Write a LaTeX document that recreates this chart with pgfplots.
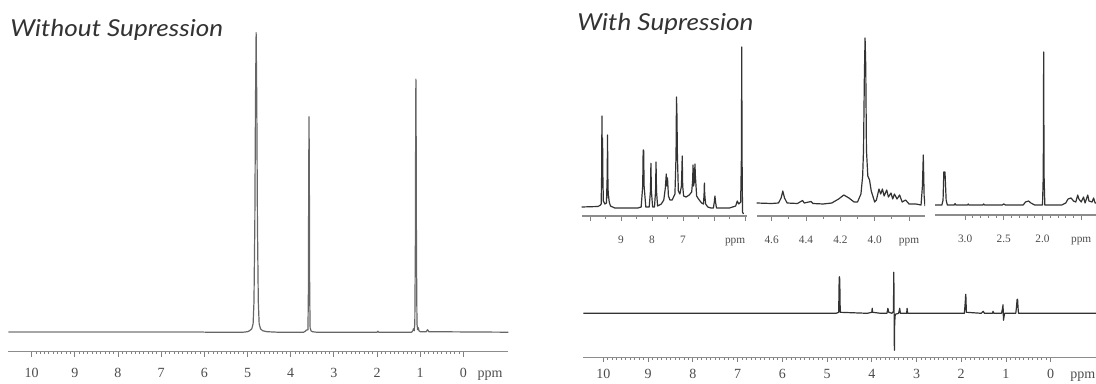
\documentclass[border=0pt]{standalone}
\usepackage{fontspec}
\setmainfont{Liberation Serif}
\newfontfamily\titlefont{Lato}[FakeStretch=1.12]
\usepackage{pgfplots}
\pgfplotsset{compat=1.18}
\pgfplotsset{
  nmr/.style={
    scale only axis, axis x line*=bottom, axis y line=none, x dir=reverse,
    tick align=outside, major tick length=3.75pt, minor tick length=1.9pt,
    axis line style={draw=black!45, line width=0.9pt},
    tick style={draw=black!50, line width=0.6pt},
    xticklabel style={font=\fontsize{10.5}{12}\selectfont, text=black!70, yshift=-4pt},
    typeset ticklabels with strut,
    ymin=0, ytick=\empty,
    extra x tick style={tick style={draw=none}},
    /pgf/number format/assume math mode=true,
  },
  spec/.style={line width=0.9pt, line join=round, black!75},
}
\begin{document}
\begin{tikzpicture}
\path[use as bounding box] (0,0) rectangle (822pt,287.25pt);
\node[anchor=base west, inner sep=0pt, font=\titlefont\itshape\fontsize{17.5}{20}\selectfont, text=black!80] at (7.5pt,260pt) {Without Supression};
\node[anchor=base west, inner sep=0pt, font=\titlefont\itshape\fontsize{17.5}{20}\selectfont, text=black!80] at (432.75pt,264.5pt) {With Supression};

% ---------- left: without suppression ----------
\begin{axis}[nmr, at={(6.225pt,23.475pt)}, anchor=south west,
  width=375pt, height=247.5pt, xmin=-1.04, xmax=10.54, ymax=330,
  xtick={0,1,...,10}, minor x tick num=9,
  extra x ticks={-0.62}, extra x tick labels={ppm}]
\addplot[spec, black!35, line width=1.1pt] coordinates {(10.54,19.5) (6.0,19.5)};
\addplot[spec, black!60] coordinates {
(6.0,19.5) (5.10,19.5) (5.0,20) (4.95,21) (4.90,23) (4.87,28) (4.85,50) (4.83,130) (4.815,250) (4.80,319)
(4.785,250) (4.77,130) (4.75,50) (4.73,28) (4.70,23) (4.65,21) (4.55,20) (4.30,19.5)
(3.70,19.5) (3.66,20.5) (3.64,21.5) (3.60,22) (3.59,60) (3.582,180) (3.575,235) (3.568,180) (3.56,60)
(3.55,24) (3.53,21) (3.50,20) (3.40,19.5) (2.00,19.5) (1.98,20.5) (1.96,19.5)
(1.20,19.5) (1.17,21) (1.155,23) (1.14,21) (1.125,28) (1.113,100) (1.105,230) (1.10,272.5)
(1.095,230) (1.087,100) (1.075,28) (1.06,22) (1.045,24) (1.03,21) (1.00,20)
(0.86,20) (0.83,22) (0.80,20) (-1.04,19.5)};
\end{axis}

% ---------- inset 1 ----------
\begin{axis}[nmr, at={(436.275pt,125.25pt)}, anchor=south west,
  width=123.75pt, height=135pt, xmin=4.945, xmax=10.268, ymax=180,
  xtick={5,6,7,8,9,10}, xticklabels={,,7,8,9,}, minor x tick num=1,
  xticklabel style={font=\fontsize{8.5}{10}\selectfont, yshift=-2pt},
  extra x ticks={5.32}, extra x tick labels={ppm}]
\addplot[spec, black!80] coordinates {
(10.27,9) (9.75,9.5) (9.68,10.5) (9.64,12) (9.625,40) (9.615,100) (9.605,60) (9.595,78) (9.585,40)
(9.57,15) (9.52,12) (9.47,13) (9.445,40) (9.435,81) (9.425,40) (9.41,18) (9.40,20) (9.38,14)
(9.34,10) (9.20,8) (8.45,8) (8.35,9) (8.30,30) (8.285,66) (8.27,66) (8.255,30) (8.20,9)
(8.09,9) (8.05,25) (8.035,52.7) (8.02,25) (7.98,9) (7.92,9) (7.885,25) (7.87,54) (7.855,25)
(7.82,10) (7.70,12) (7.62,16) (7.57,28) (7.54,42) (7.52,30) (7.50,38) (7.47,20) (7.42,16)
(7.35,16) (7.26,22) (7.225,60) (7.21,119) (7.195,100) (7.18,60) (7.15,25) (7.10,22)
(7.05,30) (7.025,60) (7.01,30) (6.98,20) (6.90,19) (6.80,21) (6.72,24) (6.69,35) (6.675,51)
(6.66,30) (6.63,35) (6.615,52) (6.60,40) (6.56,20) (6.50,17) (6.40,13) (6.34,12) (6.32,22)
(6.31,33) (6.30,22) (6.27,12) (6.20,9) (6.10,8) (6.02,8) (5.99,14) (5.97,20) (5.95,14)
(5.92,8) (5.50,8) (5.30,10) (5.25,15) (5.20,12) (5.14,14) (5.115,60) (5.105,169) (5.095,60)
(5.08,4) (5.05,2)};
\end{axis}

% ---------- inset 2 ----------
\begin{axis}[nmr, at={(567.525pt,125.25pt)}, anchor=south west,
  width=126.225pt, height=135pt, xmin=3.707, xmax=4.687, ymax=180,
  xtick={3.8,4.0,4.2,4.4,4.6}, xticklabels={ppm,4.0,4.2,4.4,4.6}, minor x tick num=1,
  xticklabel style={font=\fontsize{8.5}{10}\selectfont, yshift=-2pt}]
\addplot[spec, black!80] coordinates {
(4.687,13) (4.60,12.5) (4.56,13) (4.545,18) (4.535,25) (4.525,18) (4.51,13) (4.45,12.5)
(4.42,15.5) (4.41,13) (4.37,14.5) (4.36,12.5) (4.30,12) (4.25,13) (4.21,17) (4.18,21)
(4.15,18) (4.12,14) (4.10,14) (4.08,22) (4.07,40) (4.065,66) (4.06,140) (4.056,178)
(4.052,150) (4.048,66) (4.04,40) (4.03,36) (4.02,25) (4.00,14) (3.99,16) (3.975,27)
(3.965,22) (3.955,27) (3.945,20) (3.93,26) (3.92,19) (3.905,23) (3.895,17) (3.885,22)
(3.87,17) (3.855,21) (3.84,14) (3.82,16) (3.80,12) (3.76,12) (3.73,11) (3.722,30)
(3.717,61) (3.712,20) (3.707,10)};
\end{axis}

% ---------- inset 3 ----------
\begin{axis}[nmr, at={(701.25pt,126pt)}, anchor=south west,
  width=123.75pt, height=135pt, xmin=1.257, xmax=3.389, ymax=180,
  xtick={1.5,2.0,2.5,3.0}, xticklabels={ppm,2.0,2.5,3.0}, minor x tick num=4,
  xticklabel style={font=\fontsize{8.5}{10}\selectfont, yshift=-2pt}]
\addplot[spec, black!80] coordinates {
(3.389,10) (3.30,10) (3.285,15) (3.275,43) (3.26,43) (3.245,15) (3.23,10) (3.14,10)
(3.13,11.5) (3.12,10) (2.97,10) (2.96,11) (2.95,10) (2.77,10) (2.76,11) (2.75,10)
(2.52,10) (2.50,11) (2.48,10) (2.25,10) (2.22,13) (2.18,14) (2.15,12) (2.10,10)
(2.00,10) (1.99,40) (1.985,163) (1.98,40) (1.97,10) (1.90,10) (1.75,10) (1.70,12)
(1.67,16) (1.63,17) (1.60,14) (1.57,13) (1.545,20) (1.53,16) (1.50,13) (1.47,18)
(1.45,12) (1.415,20) (1.40,14) (1.36,13) (1.34,17) (1.32,12) (1.257,12)};
\end{axis}

% ---------- bottom right ----------
\begin{axis}[nmr, at={(437.475pt,19.275pt)}, anchor=south west,
  width=387.5pt, height=75pt, xmin=-1.102, xmax=10.45, ymax=100,
  xtick={0,1,...,10}, minor x tick num=9,
  xticklabel style={yshift=3.5pt},
  extra x ticks={-0.72}, extra x tick labels={ppm}]
\addplot[spec, black!80] coordinates {
(10.45,44) (4.80,44) (4.74,45) (4.73,75) (4.725,80.5) (4.72,80.5) (4.715,75) (4.705,45)
(4.10,44) (4.00,45) (3.99,49) (3.98,45) (3.80,44) (3.66,44) (3.64,49) (3.62,45) (3.55,44)
(3.515,46) (3.508,85) (3.502,60) (3.498,20) (3.494,7) (3.488,35) (3.475,43) (3.40,44)
(3.375,49) (3.36,44) (3.22,44) (3.21,49) (3.20,44) (1.93,44) (1.91,55) (1.90,63)
(1.895,60) (1.885,45) (1.55,44) (1.51,46) (1.48,44) (1.30,44) (1.29,46) (1.27,44)
(1.10,44) (1.08,48) (1.065,52.6) (1.06,44) (1.055,37) (1.045,40) (1.03,44) (0.78,44)
(0.765,50) (0.75,58) (0.74,58) (0.73,50) (0.72,44) (-1.102,44)};
\end{axis}
\end{tikzpicture}
\end{document}
